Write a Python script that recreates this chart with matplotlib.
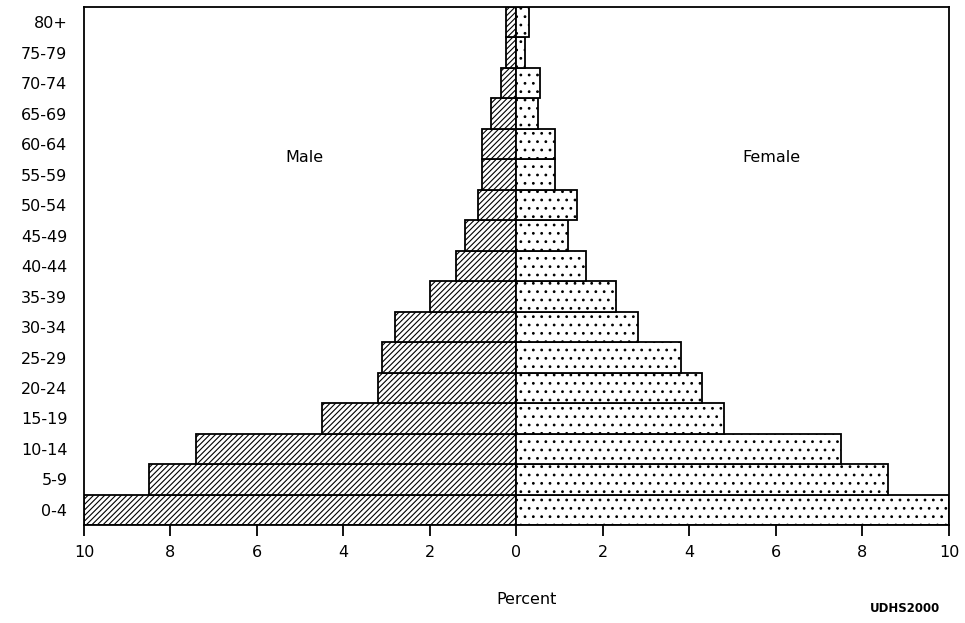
import numpy as np
import matplotlib.pyplot as plt

plt.rcParams['font.family'] = ['DejaVu Sans']
plt.rcParams['hatch.linewidth'] = 0.8

# age groups from youngest to oldest (bottom to top)
age_groups = ['0-4', '5-9', '10-14', '15-19', '20-24', '25-29', '30-34',
              '35-39', '40-44', '45-49', '50-54', '55-59', '60-64',
              '65-69', '70-74', '75-79', '80+']
male = [10.0, 8.5, 7.4, 4.5, 3.2, 3.1, 2.8, 2.0, 1.4, 1.2, 0.9,
        0.8, 0.8, 0.6, 0.35, 0.25, 0.25]
female = [10.0, 8.6, 7.5, 4.8, 4.3, 3.8, 2.8, 2.3, 1.6, 1.2, 1.4,
          0.9, 0.9, 0.5, 0.55, 0.2, 0.3]
xticks = [-10, -8, -6, -4, -2, 0, 2, 4, 6, 8, 10]

fig = plt.figure(figsize=(9.65, 6.23), dpi=100)
ax = fig.add_axes([0.087, 0.157, 0.8964, 0.8318])

y = np.arange(len(age_groups))
ax.barh(y, [-m for m in male], height=1.0, color='white', edgecolor='black',
        linewidth=1.3, hatch='//////')
ax.barh(y, female, height=1.0, color='white', edgecolor='black',
        linewidth=1.3, hatch='..')

ax.set_xlim(-10, 10)
ax.set_ylim(-0.5, len(age_groups) - 0.5)
ax.set_yticks(y)
ax.set_yticklabels(age_groups, fontsize=11.5)
ax.tick_params(axis='y', length=0, pad=12)
ax.set_xticks(xticks)
ax.set_xticklabels([str(abs(t)) for t in xticks], fontsize=11.5)
ax.tick_params(axis='x', direction='out', length=8, width=1.3, pad=6)

for s in ax.spines.values():
    s.set_linewidth(1.3)

ax.text(-4.9, 11.55, 'Male', fontsize=11.5, ha='center', va='center')
ax.text(5.9, 11.55, 'Female', fontsize=11.5, ha='center', va='center')

fig.text(0.546, 0.037, 'Percent', fontsize=11.5, ha='center', va='center')
fig.text(0.938, 0.024, 'UDHS2000', fontsize=8.5, ha='center', va='center',
         fontweight='bold')

fig.savefig('out.png', dpi=100)
